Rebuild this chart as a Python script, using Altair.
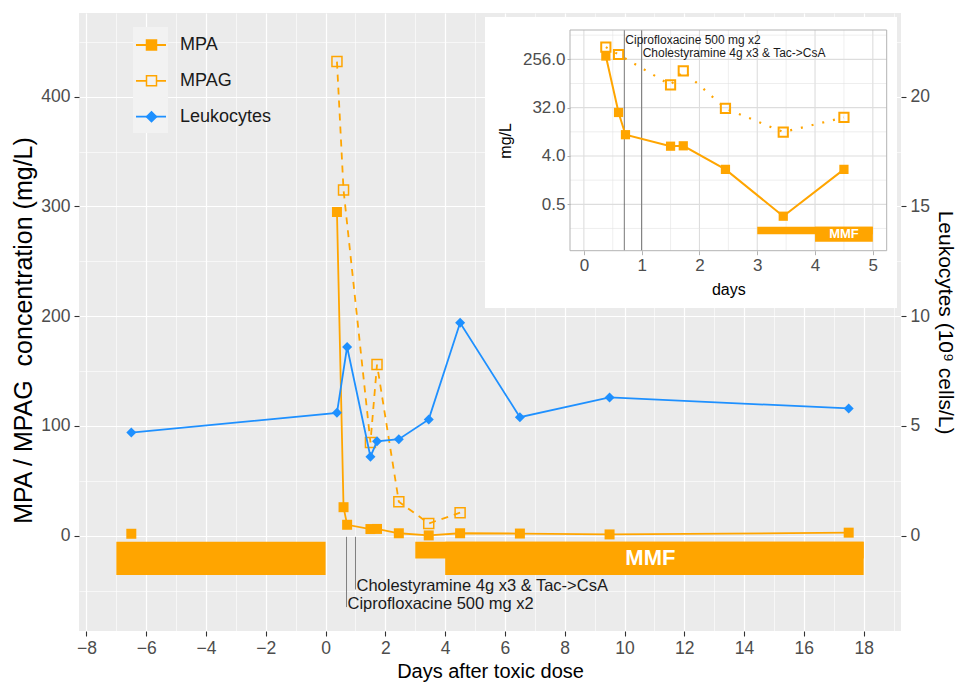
import altair as alt
import pandas as pd

# ---------------- values ----------------
mpa_days = [-6.5, 0.38, 0.6, 0.72, 1.5, 1.72, 2.45, 3.45, 4.5, 6.5, 9.5, 17.5]
mpa_vals = [1.8, 295, 26, 10, 6.1, 6.2, 2.25, 0.3, 2.25, 2.0, 1.2, 2.8]
mpag_days = [0.38, 0.6, 1.5, 1.72, 2.45, 3.45, 4.5]
mpag_vals = [432, 315, 85, 156, 31, 11.2, 21]
leuk_days = [-6.5, 0.38, 0.72, 1.5, 1.72, 2.45, 3.45, 4.5, 6.5, 9.5, 17.5]
leuk_vals = [4.7, 5.6, 8.6, 3.6, 4.3, 4.4, 5.3, 9.7, 5.4, 6.3, 5.8]
mmf_start = [-7, 3, 4]
mmf_end = [0, 18, 18]
mmf_dose = [1.0, 0.5, 1.0]
event_days = [0.7, 1.0]
event_labels = ["Ciprofloxacine 500 mg x2", "Cholestyramine 4g x3 & Tac->CsA"]
series_names = ["MPA", "MPAG", "Leukocytes"]

main_x_ticks = list(range(-8, 20))
main_y_ticks = list(range(-50, 451, 50))
leuk_ticks = [0, 5, 10, 15, 20]
inset_x_major = [0, 1, 2, 3, 4, 5]
inset_x_minor = [0.5, 1.5, 2.5, 3.5, 4.5]
inset_y_major = [0.5, 4, 32, 256]
inset_y_minor = [0.177, 1.414, 11.31, 90.5, 724]

# ---------------- layout / style ----------------
W, H = 822, 618
FONT = "Liberation Sans"
ORANGE, BLUE = "#FFA500", "#1E90FF"
TICK_LAB = "#4D4D4D"
X_DOM = [-8.25, 19.25]
Y_DOM = [-86.8, 476.3]
LEUK_DOM = [Y_DOM[0] / 20, Y_DOM[1] / 20]
BAR_TOP, BAR_H = -5.5, 30.3
EVENT_TEXT_Y = [-62.5, -46]
EVENT_LINE_END = [-65, -49]
INSET_TEXT_PX = [27, 40]
IX = [491, 807.7]
IY = [237.7, 17]
IX_DOM = [-0.24, 5.24]
IY_DOM = [0.068, 904]
IBAR_TOP, IBAR_BOT = 0.19, 0.1
IX_MAX = 5


def cond(test, a, b):
    return {"condition": {"test": test, "value": a}, "value": b}


even_x = "datum.value % 2 === 0"
hund_y = "datum.value % 100 === 0"

x_axis = alt.Axis(
    orient="bottom", values=main_x_ticks, labelExpr=f"{even_x} ? datum.label : ''",
    grid=True, gridColor="white", gridWidth=cond(even_x, 1.2, 0.6), gridOpacity=1,
    domain=False, tickColor="#333333", tickWidth=1.1, tickSize=5, tickOpacity=cond(even_x, 1, 0),
    labelFont=FONT, labelFontSize=17.5, labelColor=TICK_LAB, labelPadding=3,
    labelFlush=False, labelOverlap=False,
    title="Days after toxic dose", titleFont=FONT, titleFontSize=20, titleFontWeight="normal",
    titleColor="black", titleX=W / 2, titleY=40, titleAlign="center", titleBaseline="middle",
)
y_axis = alt.Axis(
    orient="left", values=main_y_ticks, labelExpr=f"{hund_y} ? datum.label : ''",
    grid=True, gridColor="white", gridWidth=cond(hund_y, 1.2, 0.6), gridOpacity=1,
    domain=False, tickColor="#333333", tickWidth=1.1, tickSize=5, tickOpacity=cond(hund_y, 1, 0),
    labelFont=FONT, labelFontSize=17.5, labelColor=TICK_LAB, labelPadding=4,
    labelFlush=False, labelOverlap=False,
    title="MPA / MPAG\u00a0 concentration (mg/L)", titleFont=FONT, titleFontSize=25,
    titleFontWeight="normal", titleColor="black", titleX=-56, titleY=H / 2 + 8,
    titleAngle=270, titleAlign="center", titleBaseline="middle",
)
leuk_axis = alt.Axis(
    orient="right", values=leuk_ticks, grid=False, domain=False,
    tickColor="#333333", tickWidth=1.1, tickSize=5,
    labelFont=FONT, labelFontSize=17.5, labelColor=TICK_LAB, labelPadding=4,
    labelFlush=False, labelOverlap=False,
    title="Leukocytes (10\u2079 cells/L)", titleFont=FONT, titleFontSize=21,
    titleFontWeight="normal", titleColor="black", titleX=43, titleY=H / 2,
    titleAngle=90, titleAlign="center", titleBaseline="middle",
)

X = alt.X("day:Q", scale=alt.Scale(domain=X_DOM, nice=False, zero=False), axis=x_axis)
Y = alt.Y("value:Q", scale=alt.Scale(domain=Y_DOM, nice=False, zero=False), axis=y_axis)

mpa_df = pd.DataFrame({"day": mpa_days, "value": mpa_vals})
mpag_df = pd.DataFrame({"day": mpag_days, "value": mpag_vals})
leuk_df = pd.DataFrame({"day": leuk_days, "value": leuk_vals})
mmf_df = pd.DataFrame({"day": mmf_start, "end": mmf_end, "dose": mmf_dose})
mmf_last = pd.DataFrame({"start": [mmf_start[-1]], "end": [mmf_end[-1]], "dose": [mmf_dose[-1]]})
ev_df = pd.DataFrame({"day": event_days, "label": event_labels,
                      "ty": EVENT_TEXT_Y, "ly": EVENT_LINE_END, "ipx": INSET_TEXT_PX})
one = pd.DataFrame({"k": [0]})

# ---------------- main panel ----------------
bars = alt.Chart(mmf_df).transform_calculate(
    value=f"{BAR_TOP}", bottom=f"{BAR_TOP} - datum.dose * {BAR_H}"
).mark_rect(color=ORANGE).encode(x=X, x2="end:Q", y=Y, y2="bottom:Q")

mmf_lab = alt.Chart(mmf_last).transform_calculate(
    day="(datum.start + datum.end) / 2", value=f"{BAR_TOP} - datum.dose * {BAR_H} / 2"
).mark_text(text="MMF", font=FONT, fontSize=22, fontWeight="bold", color="white",
            align="center", baseline="middle", dx=-4).encode(x=X, y=Y)

ev_rules = alt.Chart(ev_df).transform_calculate(value="-1").mark_rule(
    color="#7F7F7F", strokeWidth=1).encode(x=X, y=Y, y2="ly:Q")
ev_text = alt.Chart(ev_df).transform_calculate(value="datum.ty").mark_text(
    align="left", baseline="middle", dx=1, font=FONT, fontSize=16.5, color="#1A1A1A"
).encode(x=X, y=Y, text="label:N")

mpag_line = alt.Chart(mpag_df).mark_line(color=ORANGE, strokeWidth=1.8, strokeDash=[7, 6]).encode(x=X, y=Y)
mpa_line = alt.Chart(mpa_df).transform_filter("datum.day > 0").mark_line(
    color=ORANGE, strokeWidth=1.8).encode(x=X, y=Y)
mpag_pts = alt.Chart(mpag_df).mark_point(shape="square", filled=False, size=100, color=ORANGE,
                                         strokeWidth=1.5, opacity=1).encode(x=X, y=Y)
mpa_pts = alt.Chart(mpa_df).mark_point(shape="square", filled=True, size=100, color=ORANGE,
                                       opacity=1).encode(x=X, y=Y)

main = alt.layer(bars, ev_rules, ev_text, mmf_lab, mpag_line, mpa_line, mpag_pts, mpa_pts)

# ---------------- leukocytes (right axis) ----------------
LX = alt.X("day:Q", scale=alt.Scale(domain=X_DOM, nice=False, zero=False), axis=None)
LY = alt.Y("value:Q", scale=alt.Scale(domain=LEUK_DOM, nice=False, zero=False), axis=leuk_axis)
leuk_line = alt.Chart(leuk_df).mark_line(color=BLUE, strokeWidth=1.8).encode(x=LX, y=LY)
leuk_pts = alt.Chart(leuk_df).mark_point(shape="diamond", filled=True, size=100, color=BLUE,
                                         opacity=1).encode(x=LX, y=LY)
leuk = alt.layer(leuk_line, leuk_pts)

# ---------------- inset ----------------
in_window = f"datum.day >= 0 && datum.day <= {IX_MAX}"
inset_x_axis = alt.Axis(
    orient="bottom", offset=-(H - IY[0]), values=inset_x_major, format="d", grid=False,
    domain=False, tickColor="#B3B3B3", tickSize=4, labelFont=FONT, labelFontSize=17,
    labelColor=TICK_LAB, labelPadding=3, labelFlush=False, labelOverlap=False,
    title="days", titleFont=FONT, titleFontSize=16, titleFontWeight="normal", titleColor="black",
    titleX=(IX[0] + IX[1]) / 2, titleY=39, titleAlign="center", titleBaseline="middle", zindex=1,
)
inset_y_axis = alt.Axis(
    orient="left", offset=-IX[0], values=inset_y_major, format=".1f", grid=False,
    domain=False, tickColor="#B3B3B3", tickSize=3, labelFont=FONT, labelFontSize=17,
    labelColor=TICK_LAB, labelPadding=2, labelFlush=False, labelOverlap=False,
    title="mg/L", titleFont=FONT, titleFontSize=16, titleFontWeight="normal", titleColor="black",
    titleX=-65, titleY=(IY[0] + IY[1]) / 2, titleAngle=270, titleAlign="center",
    titleBaseline="middle", zindex=1,
)
IXE = alt.X("day:Q", scale=alt.Scale(domain=IX_DOM, range=IX, nice=False, zero=False), axis=inset_x_axis)
IYE = alt.Y("value:Q", scale=alt.Scale(type="log", base=2, domain=IY_DOM, range=IY, nice=False),
            axis=inset_y_axis)

inset_bg = alt.Chart(one).mark_rect(color="white").encode(
    x=alt.value(406), x2=alt.value(818), y=alt.value(4), y2=alt.value(295))
ixg_minor = alt.Chart(pd.DataFrame({"day": inset_x_minor})).mark_rule(
    color="#E3E3E3", strokeWidth=0.6).encode(x=IXE, y=alt.value(IY[1]), y2=alt.value(IY[0]))
ixg_major = alt.Chart(pd.DataFrame({"day": inset_x_major})).mark_rule(
    color="#DDDDDD", strokeWidth=1.1).encode(x=IXE, y=alt.value(IY[1]), y2=alt.value(IY[0]))
iyg_minor = alt.Chart(pd.DataFrame({"value": inset_y_minor})).mark_rule(
    color="#E3E3E3", strokeWidth=0.6).encode(y=IYE, x=alt.value(IX[0]), x2=alt.value(IX[1]))
iyg_major = alt.Chart(pd.DataFrame({"value": inset_y_major})).mark_rule(
    color="#DDDDDD", strokeWidth=1.1).encode(y=IYE, x=alt.value(IX[0]), x2=alt.value(IX[1]))
iev_rules = alt.Chart(ev_df).mark_rule(color="#555555", strokeWidth=0.8).encode(
    x=IXE, y=alt.value(IY[1]), y2=alt.value(IY[0]))
iev_text = alt.Chart(ev_df).mark_text(align="left", baseline="middle", dx=1, font=FONT,
                                      fontSize=12, color="#1A1A1A").encode(
    x=IXE, y=alt.Y("ipx:Q", scale=None), text="label:N")
ibars = alt.Chart(mmf_df).transform_filter("datum.end > 0").transform_calculate(
    end2=f"min(datum.end, {IX_MAX})", value=f"{IBAR_TOP}",
    bottom=f"{IBAR_TOP} * pow({IBAR_BOT} / {IBAR_TOP}, datum.dose)"
).mark_rect(color=ORANGE).encode(x=IXE, x2="end2:Q", y=IYE, y2="bottom:Q")
immf = alt.Chart(mmf_last).transform_calculate(
    day=f"(datum.start + min(datum.end, {IX_MAX})) / 2",
    value=f"{IBAR_TOP} * pow({IBAR_BOT} / {IBAR_TOP}, datum.dose / 2)"
).mark_text(text="MMF", font=FONT, fontSize=13, fontWeight="bold", color="white",
            align="center", baseline="middle").encode(x=IXE, y=IYE)
impa_line = alt.Chart(mpa_df).transform_filter(in_window).mark_line(
    color=ORANGE, strokeWidth=2).encode(x=IXE, y=IYE)
impag_line = alt.Chart(mpag_df).transform_filter(in_window).mark_line(
    color=ORANGE, strokeWidth=2.2, strokeDash=[2, 9]).encode(x=IXE, y=IYE)
impa_pts = alt.Chart(mpa_df).transform_filter(in_window).mark_point(
    shape="square", filled=True, size=85, color=ORANGE, opacity=1).encode(x=IXE, y=IYE)
impag_pts = alt.Chart(mpag_df).transform_filter(in_window).mark_point(
    shape="square", filled=False, size=85, color=ORANGE, strokeWidth=2, opacity=1).encode(x=IXE, y=IYE)
iborder = alt.Chart(one).mark_rect(fillOpacity=0, stroke="#B3B3B3", strokeWidth=1).encode(
    x=alt.value(IX[0]), x2=alt.value(IX[1]), y=alt.value(IY[1]), y2=alt.value(IY[0]))

inset = alt.layer(inset_bg, ixg_minor, ixg_major, iyg_minor, iyg_major, iev_rules, ibars, immf,
                  impag_line, impa_line, impag_pts, impa_pts, iev_text, iborder)

# ---------------- legend ----------------
leg_df = pd.DataFrame({"series": series_names})
LEGY = alt.Y("series:N", scale=alt.Scale(type="point", domain=series_names, range=[32, 103.7], padding=0),
             axis=None)
col_scale = alt.Scale(domain=series_names, range=[ORANGE, ORANGE, BLUE])
key_bg = alt.Chart(one).mark_rect(color="#F2F2F2").encode(
    x=alt.value(54), x2=alt.value(89), y=alt.value(14), y2=alt.value(120))
leg_lines = alt.Chart(leg_df).mark_rule(strokeWidth=1.8).encode(
    x=alt.value(57), x2=alt.value(87), y=LEGY,
    color=alt.Color("series:N", scale=col_scale, legend=None),
    strokeDash=alt.StrokeDash("series:N", scale=alt.Scale(domain=series_names,
                                                         range=[[1, 0], [10, 10], [1, 0]]), legend=None))
leg_pts = alt.Chart(leg_df).mark_point(filled=True, size=100, strokeWidth=1.5, opacity=1).encode(
    x=alt.value(72.5), y=LEGY,
    shape=alt.Shape("series:N", scale=alt.Scale(domain=series_names, range=["square", "square", "diamond"]),
                    legend=None),
    fill=alt.Fill("series:N", scale=alt.Scale(domain=series_names, range=[ORANGE, "#F2F2F2", BLUE]),
                  legend=None),
    stroke=alt.Stroke("series:N", scale=col_scale, legend=None))
leg_text = alt.Chart(leg_df).mark_text(align="left", baseline="middle", font=FONT, fontSize=18,
                                       color="#1A1A1A").encode(x=alt.value(101), y=LEGY, text="series:N")
legend = alt.layer(key_bg, leg_lines, leg_pts, leg_text)

chart = alt.layer(main, leuk, inset, legend).resolve_scale(
    x="independent", y="independent", color="independent", stroke="independent"
).properties(
    width=W, height=H,
    autosize=alt.AutoSizeParams(type="none"),
    padding={"left": 71, "top": 5, "right": 55, "bottom": 51},
).configure_view(fill="#EBEBEB", strokeWidth=0)

chart.save("out.html", embed_options={"renderer": "svg", "actions": False})
